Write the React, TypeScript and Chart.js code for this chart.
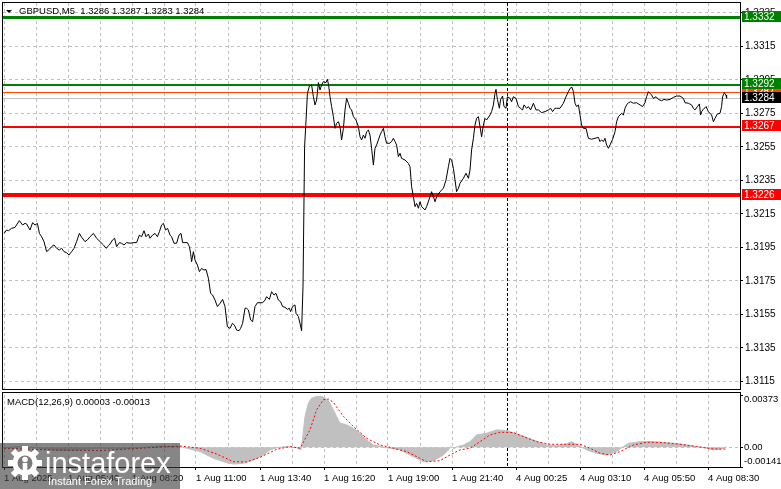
import React, { useEffect, useRef } from 'react';
import { Chart, registerables } from 'chart.js';
Chart.register(...registerables);

// ---------- data ----------
const priceBars = [
  0, 1.3, 2.2, 3.8, 5.5, 7.7, 9.3, 10.5, 11.3, 13, 14.3, 15.5, 16.7, 17.7, 18.8, 20, 21.3, 22.7, 23.8, 25,
  26.3, 27.7, 28.8, 30, 31.3, 32.5, 33.8, 35, 36.3, 37.7, 38.8, 40.5, 41.7, 43, 44.7, 46.3, 48, 49.7, 51, 52.7,
  54.3, 55.3, 56.3, 57.7, 58.8, 60, 61.3, 63, 65, 66.3, 67.7, 68.8, 70, 71, 72.2, 73, 74.3, 75.5, 76.7, 77.7,
  78.8, 79.7, 80.8, 81.8, 83, 83.8, 85, 86.3, 87.5, 88.5, 89.3, 90.5, 91.7, 92.7, 93.3, 93.8, 94.7, 95.5, 96.7, 97.7,
  98.8, 100, 101, 102.2, 103.3, 104.3, 105.5, 106.7, 108, 109.3, 110.5, 111.7, 113, 114.2, 115.2, 116.3, 117.5, 118.3, 119.3, 120.5,
  121.3, 122.2, 123.3, 124.3, 125.5, 126.7, 128, 129.3, 130.5, 131.3, 132.7, 133.8, 135, 136, 137.2, 138.3, 139.3, 140.5, 141.7, 142.7,
  143.3, 144.3, 145.5, 146, 147.2, 148, 148.8, 149.5, 150.3, 151.3, 151.7, 152.7, 153.8, 154.7, 155.5, 156.3, 157.2, 158, 158.8, 159.7,
  161, 161.7, 162.3, 163, 163.8, 164.7, 165.5, 166.3, 167.2, 168, 168.8, 169.7, 170.5, 171.3, 172.2, 173, 173.8, 174.7, 176, 177.2,
  178, 178.8, 179.7, 180.5, 181.3, 182.2, 183, 183.8, 184.7, 185.5, 186.3, 187.2, 188, 188.8, 189.7, 190.5, 191.3, 192.7, 193.8, 194.7,
  195.5, 196.3, 197.2, 198, 198.8, 200.5, 202.2, 203, 203.8, 204.7, 205.5, 206.3, 207.2, 208, 208.8, 210.5, 211.3, 213, 213.8, 214.7,
  215.5, 216.3, 218, 219.7, 221, 222.2, 223, 223.8, 224.7, 225.5, 226.3, 227.2, 228, 229.7, 231, 232.2, 233, 233.8, 234.7, 235.5,
  236.3, 237.2, 238, 238.8, 239.7, 240.5, 241.3, 243, 243.8, 244.7, 245.5, 246, 246.7, 247.7, 248.3, 249.3, 250, 251, 251.7, 253,
  253.8, 254.7, 256, 257.2, 258.3, 259.3, 260, 261.3, 262.2, 263.3, 264.7, 266, 267.2, 268.8, 270.5, 272.2, 273.3, 274.3, 275.5, 276.3,
  278, 279.7, 281, 282.2, 283, 284, 284.7, 285.5, 286.3, 287.2, 288, 288.8, 289.7, 291, 292.2, 293.8, 295.5, 297.2, 298, 298.8,
  299.7, 300.5, 301.3, 302.2, 303, 304.3, 305.5, 306.3, 307.2, 308.8, 309.7, 310.5, 311.3, 312.2, 313.3, 314.7, 316.3, 318, 319.3, 320.5,
  321.3, 322.2, 323, 323.8, 324.7, 326, 327.2, 328.8, 330, 331.3, 333, 334.7, 336.3, 338, 339.7, 340.5, 342.2, 343.8, 344.7, 345.5,
  346.7, 347.7, 348.3, 348.8, 349.7, 351, 352.2, 353.8, 354.7, 355.5, 356.7, 358, 358.8, 359.3, 360.2, 361, 361.3,
];
const priceCloses = [
  1.32033, 1.32053, 1.32049, 1.32063, 1.32069, 1.32109, 1.32083, 1.32093, 1.32089, 1.32053, 1.32097, 1.32083, 1.32093, 1.32033, 1.32013, 1.31984, 1.31924, 1.31938, 1.31954, 1.31964,
  1.31944, 1.31934, 1.31944, 1.31924, 1.31918, 1.31904, 1.31924, 1.31944, 1.31984, 1.32033, 1.3201, 1.31984, 1.31994, 1.32013, 1.32033, 1.32004, 1.31984, 1.31964, 1.31944, 1.31964,
  1.31994, 1.32004, 1.31954, 1.31978, 1.31974, 1.31964, 1.31978, 1.31974, 1.31978, 1.31978, 1.32023, 1.32013, 1.32049, 1.32013, 1.32029, 1.32004, 1.32023, 1.32033, 1.32013, 1.32043,
  1.32083, 1.32093, 1.32053, 1.32063, 1.32023, 1.32013, 1.31974, 1.31974, 1.32023, 1.32033, 1.31978, 1.31978, 1.31978, 1.31954, 1.31914, 1.31864, 1.31924, 1.31874, 1.31844, 1.31805,
  1.31824, 1.31814, 1.31818, 1.31765, 1.31675, 1.31665, 1.31635, 1.31596, 1.31615, 1.31639, 1.31596, 1.31476, 1.31466, 1.31496, 1.31486, 1.31456, 1.31452, 1.31466, 1.31496, 1.31586,
  1.31586, 1.31576, 1.31516, 1.31506, 1.31596, 1.31619, 1.31619, 1.31619, 1.31635, 1.31655, 1.31639, 1.31685, 1.31665, 1.31675, 1.31635, 1.31625, 1.31596, 1.31592, 1.3158, 1.31586,
  1.31566, 1.31596, 1.31606, 1.31556, 1.31536, 1.31496, 1.31452, 1.31715, 1.32551, 1.3277, 1.32869, 1.32913, 1.32919, 1.32849, 1.328, 1.32829, 1.32933, 1.32889, 1.32919, 1.32939,
  1.32933, 1.32953, 1.32919, 1.32849, 1.3279, 1.3273, 1.3266, 1.3269, 1.327, 1.3267, 1.32591, 1.3266, 1.3277, 1.32839, 1.3281, 1.3278, 1.3277, 1.3273, 1.3271, 1.3267,
  1.3261, 1.32591, 1.3262, 1.32601, 1.3264, 1.3265, 1.3262, 1.32541, 1.32441, 1.32541, 1.32561, 1.32591, 1.3262, 1.3264, 1.3266, 1.3261, 1.32571, 1.32571, 1.32581, 1.32601,
  1.32581, 1.32561, 1.32491, 1.32511, 1.32481, 1.32471, 1.32451, 1.32431, 1.32312, 1.32252, 1.32193, 1.32212, 1.32183, 1.32222, 1.32193, 1.32173, 1.32193, 1.32252, 1.32282, 1.32252,
  1.32222, 1.32252, 1.32282, 1.32302, 1.32352, 1.32431, 1.32481, 1.32471, 1.32421, 1.32352, 1.32282, 1.32302, 1.32332, 1.32362, 1.32392, 1.32362, 1.32411, 1.32531, 1.32601, 1.3268,
  1.3272, 1.3273, 1.3267, 1.3261, 1.3268, 1.3272, 1.3271, 1.3274, 1.3276, 1.328, 1.32869, 1.32893, 1.32833, 1.3278, 1.32833, 1.32853, 1.3279, 1.3278, 1.32849, 1.32839,
  1.32819, 1.32849, 1.32839, 1.3279, 1.3278, 1.3277, 1.328, 1.3278, 1.3279, 1.3277, 1.3281, 1.3277, 1.3277, 1.32754, 1.3276, 1.3277, 1.3278, 1.3276, 1.3278, 1.3278,
  1.3278, 1.3281, 1.32849, 1.32879, 1.32899, 1.32905, 1.32879, 1.3281, 1.3279, 1.328, 1.3274, 1.3268, 1.3266, 1.3266, 1.32601, 1.32595, 1.32601, 1.32606, 1.32581, 1.32591,
  1.32581, 1.32601, 1.32561, 1.32541, 1.32561, 1.32595, 1.3264, 1.327, 1.3273, 1.3275, 1.3274, 1.3278, 1.328, 1.32813, 1.32819, 1.3281, 1.32813, 1.328, 1.3279, 1.32813,
  1.32849, 1.32879, 1.32869, 1.32859, 1.32839, 1.32849, 1.32833, 1.32825, 1.32833, 1.32829, 1.32833, 1.32845, 1.32853, 1.32853, 1.32839, 1.32813, 1.3281, 1.328, 1.3278, 1.3277,
  1.3279, 1.32806, 1.3274, 1.3276, 1.32774, 1.3279, 1.3276, 1.3274, 1.327, 1.3272, 1.32746, 1.3275, 1.3279, 1.32849, 1.32873, 1.32859, 1.3284,
];

const macdBars = [
  0, 8, 18, 28, 38, 48, 58, 68, 78, 88, 91.3, 98, 104.7, 111.3, 114.7, 119.7, 124.7, 129.7, 133, 136.3,
  141.3, 146.3, 148.5, 149.2, 150.5, 152.2, 153.8, 156.3, 158.8, 160.5, 162.2, 164.7, 166.3, 168, 171.3, 174.7, 178, 181.3, 184.7, 188,
  191.3, 198, 204.7, 209.7, 214.7, 219.7, 222.2, 223.3, 225, 226.7, 229.7, 233, 236.3, 241.3, 246.3, 251.3, 258, 264.7, 271.3, 276.3,
  281.3, 283.8, 286.3, 291.3, 296.3, 301.3, 306.3, 309.7, 312.2, 318, 324.7, 331.3, 338, 346.3, 351.3, 354.7, 358, 361.3,
];
const macdValues = [
  -0.00003, 0.00005, -0.00007, -0.00025, -0.00019, -0.00007, -0.00012, -0.00003, 0.00009, 0.00005, -0.00007, -0.00031, -0.00079, -0.0011, -0.0012, -0.00115, -0.00091, -0.00055, -0.00019, -0.00003,
  0.00005, -0.00003, -0.00019, 0.00052, 0.0022, 0.00315, 0.00351, 0.00363, 0.00363, 0.00351, 0.00334, 0.00267, 0.0022, 0.00172, 0.0016, 0.00136, 0.001, 0.00052, 0.00016, 0.00005,
  -0.00003, -0.00019, -0.00067, -0.00103, -0.00096, -0.00055, -0.00019, 0.00005, -0.0001, 0.00005, 0.00016, 0.0004, 0.00088, 0.001, 0.00124, 0.00119, 0.00088, 0.00052, 0.00016, 0.00012,
  0.00024, 0.0004, 0.00021, -0.00019, -0.00043, -0.00055, -0.00031, 0.00005, 0.00028, 0.0004, 0.0004, 0.00033, 0.00024, 0.00005, -0.00007, -0.00019, -0.00015, 0.00003,
];
const signalBars = [
  0, 23, 48, 73, 88, 98, 106.3, 114.7, 121.3, 128, 136.3, 143, 148, 153, 156.3, 159.7, 162.2, 164.7, 169.7, 174.7,
  181.3, 188, 194.7, 201.3, 208, 211.3, 218, 223, 228, 233, 238, 243, 248, 254.7, 259.7, 266.3, 273, 281.3, 288, 293,
  298, 303, 308, 314.7, 321.3, 329.7, 338, 346.3, 354.7, 361.3,
];
const signalValues = [
  -0.00007, -0.00019, -0.00024, -0.00003, 0.00009, -0.00007, -0.00048, -0.00103, -0.00105, -0.00072, -0.00015, 0.00005, -0.00007, 0.00124, 0.00267, 0.00339, 0.00344, 0.0032, 0.0022, 0.00148,
  0.00064, 0.00016, -0.00007, -0.00031, -0.00079, -0.00103, -0.00096, -0.00055, -0.00019, -0.00007, 0.0004, 0.00088, 0.00107, 0.00105, 0.00076, 0.0004, 0.00021, 0.00021, 0.00021, -0.00007,
  -0.00043, -0.00055, -0.00031, 0.00016, 0.00036, 0.00033, 0.00021, 0.00005, -0.00012, -0.00013,
];

const priceTicks = [1.3115, 1.3135, 1.3155, 1.3175, 1.3195, 1.3215, 1.3235, 1.3255, 1.3275, 1.3295, 1.3315, 1.3335];
const timeLabels = [
  '1 Aug 2025', '1 Aug 05:40', '1 Aug 08:20', '1 Aug 11:00', '1 Aug 13:40', '1 Aug 16:20',
  '1 Aug 19:00', '1 Aug 21:40', '4 Aug 00:25', '4 Aug 03:10', '4 Aug 05:50', '4 Aug 08:30',
];
const levelValues = [1.32872, 1.3292, 1.33324, 1.3284, 1.3267, 1.3226];
const levelLabels = ['1.3287', '1.3292', '1.3332', '1.3284', '1.3267', '1.3226'];
const macdAxisLabels = ['0.00373', '0.00', '-0.00141'];
const macdAxisValues = [0.00373, 0, -0.00141];
const separatorBar = 251.5;
const chartTitle = 'GBPUSD,M5  1.3286 1.3287 1.3283 1.3284';
const macdTitle = 'MACD(12,26,9) 0.00003 -0.00013';

// ---------- styles / layout ----------
const FONT = '"Liberation Sans", Arial, sans-serif';
const GRID = '#c0c0c0';
const CLEAR = 'rgba(0,0,0,0)';
const LEVEL_COLORS = ['#ff4500', '#008000', '#008000', '#c0c0c0', '#ff0000', '#ff0000'];
const LEVEL_WIDTHS = [1, 2, 3, 1, 2, 4];
const LEVEL_BOX = ['#ff4500', '#008000', '#008000', '#000000', '#ff0000', '#ff0000'];
const X_MIN = -0.5;
const X_MAX = 368;
const GRID_STEP = 16;
const LABEL_STEP = 32;
const PRICE_MIN = 1.31104;
const PRICE_MAX = 1.334085;
const MACD_MIN = -0.00141;
const MACD_MAX = 0.00373;

const gridBarList = () => {
  const out: number[] = [];
  for (let b = 0; b <= 352; b += GRID_STEP) out.push(b);
  return out;
};

function alignedY(py: number, w: number) {
  return w % 2 === 1 ? Math.round(py - 0.5) + 0.5 : Math.round(py);
}

function dashedGrid(ctx: any, a: any, xs: number[], ys: number[]) {
  ctx.save();
  ctx.strokeStyle = GRID;
  ctx.lineWidth = 1;
  ctx.setLineDash([3, 3]);
  ctx.beginPath();
  xs.forEach((px) => {
    const x = Math.floor(px) + 0.5;
    ctx.moveTo(x, a.top);
    ctx.lineTo(x, a.bottom);
  });
  ys.forEach((py) => {
    const y = Math.floor(py) + 0.5;
    ctx.moveTo(a.left, y);
    ctx.lineTo(a.right, y);
  });
  ctx.stroke();
  ctx.restore();
}

function noPad(s: any) {
  s.paddingTop = 0;
  s.paddingBottom = 0;
  s.paddingLeft = 0;
  s.paddingRight = 0;
}

const mainDecor = {
  id: 'mainDecor',
  beforeDatasetsDraw(chart: any) {
    const { ctx, chartArea: a, scales } = chart;
    dashedGrid(
      ctx,
      a,
      scales.x.ticks.map((t: any) => scales.x.getPixelForValue(t.value)),
      scales.y.ticks.map((t: any) => scales.y.getPixelForValue(t.value)),
    );
    ctx.save();
    ctx.beginPath();
    ctx.rect(a.left, a.top, a.right - a.left, a.bottom - a.top);
    ctx.clip();
    const sx = Math.round(scales.x.getPixelForValue(separatorBar)) + 0.5;
    ctx.strokeStyle = '#000';
    ctx.lineWidth = 1;
    ctx.setLineDash([3, 2]);
    ctx.beginPath();
    ctx.moveTo(sx, a.top);
    ctx.lineTo(sx, a.bottom);
    ctx.stroke();
    ctx.setLineDash([]);
    levelValues.forEach((v, i) => {
      const w = LEVEL_WIDTHS[i];
      const py = alignedY(scales.y.getPixelForValue(v), w);
      ctx.strokeStyle = LEVEL_COLORS[i];
      ctx.lineWidth = w;
      ctx.beginPath();
      ctx.moveTo(a.left, py);
      ctx.lineTo(a.right, py);
      ctx.stroke();
    });
    ctx.restore();
  },
  afterDraw(chart: any) {
    const { ctx, chartArea: a, scales } = chart;
    ctx.save();
    ctx.strokeStyle = '#000';
    ctx.lineWidth = 1;
    ctx.strokeRect(a.left - 0.5, a.top - 0.5, a.right - a.left + 1, a.bottom - a.top + 1);
    ctx.font = `10px ${FONT}`;
    ctx.textBaseline = 'middle';
    ctx.textAlign = 'left';
    levelValues.forEach((v, i) => {
      const py = scales.y.getPixelForValue(v);
      const top = Math.round(py - 6.5);
      ctx.fillStyle = LEVEL_BOX[i];
      ctx.fillRect(a.right + 2, top, chart.width - a.right - 2, 11);
      ctx.fillStyle = '#fff';
      ctx.fillText(levelLabels[i], a.right + 4, top + 6);
    });
    ctx.fillStyle = '#000';
    ctx.beginPath();
    ctx.moveTo(6, 10);
    ctx.lineTo(12, 10);
    ctx.lineTo(9, 13);
    ctx.closePath();
    ctx.fill();
    ctx.font = `9.5px ${FONT}`;
    ctx.fillText(chartTitle, 19, 11);
    ctx.restore();
  },
};

function drawLogo(ctx: any, cx: number, cy: number) {
  ctx.save();
  ctx.translate(cx, cy);
  ctx.fillStyle = '#ffffff';
  for (let k = 0; k < 8; k++) {
    ctx.save();
    ctx.rotate((k * Math.PI) / 4);
    ctx.fillRect(-3, -17, 6, 7);
    ctx.restore();
  }
  ctx.beginPath();
  ctx.arc(0, 0, 12.5, 0, Math.PI * 2);
  ctx.fill();
  ctx.fillStyle = '#7a7a7a';
  ctx.beginPath();
  ctx.arc(0, 0, 7.5, 0, Math.PI * 2);
  ctx.fill();
  ctx.fillStyle = '#ffffff';
  ctx.beginPath();
  ctx.arc(0, -3.5, 2.8, 0, Math.PI * 2);
  ctx.fill();
  ctx.fillRect(-2.3, 0, 4.6, 14);
  ctx.restore();
}

const macdDecor = {
  id: 'macdDecor',
  beforeDatasetsDraw(chart: any) {
    const { ctx, chartArea: a, scales } = chart;
    dashedGrid(
      ctx,
      a,
      scales.x.ticks.map((t: any) => scales.x.getPixelForValue(t.value)),
      [scales.y.getPixelForValue(0)],
    );
    ctx.save();
    const sx = Math.round(scales.x.getPixelForValue(separatorBar)) + 0.5;
    ctx.strokeStyle = '#000';
    ctx.lineWidth = 1;
    ctx.setLineDash([3, 2]);
    ctx.beginPath();
    ctx.moveTo(sx, 1);
    ctx.lineTo(sx, a.bottom);
    ctx.stroke();
    ctx.restore();
  },
  afterDraw(chart: any) {
    const { ctx, chartArea: a, scales } = chart;
    ctx.save();
    ctx.strokeStyle = '#000';
    ctx.lineWidth = 1;
    ctx.strokeRect(a.left - 0.5, 0.5, a.right - a.left + 1, a.bottom);
    ctx.fillStyle = '#000';
    ctx.font = `9.5px ${FONT}`;
    ctx.textBaseline = 'middle';
    ctx.textAlign = 'left';
    const offs = [4, 0, -6];
    macdAxisValues.forEach((v, i) => {
      const py = scales.y.getPixelForValue(v);
      ctx.fillText(macdAxisLabels[i], a.right + 4, py + offs[i]);
    });
    ctx.fillText(macdTitle, 7, 10);
    ctx.fillStyle = 'rgba(60,60,60,0.62)';
    ctx.fillRect(0, 51, 180, chart.height - 51);
    drawLogo(ctx, 25, 71);
    ctx.fillStyle = '#ffffff';
    ctx.textBaseline = 'alphabetic';
    ctx.font = `29px ${FONT}`;
    ctx.fillText('instaforex', 45, 81);
    ctx.font = `11px ${FONT}`;
    ctx.fillText('Instant Forex Trading', 48, 93);
    ctx.restore();
  },
};

function mainConfig(): any {
  return {
    type: 'line',
    data: {
      datasets: [
        {
          data: priceBars.map((b, i) => ({ x: b, y: priceCloses[i] })),
          borderColor: '#000000',
          borderWidth: 1,
          pointRadius: 0,
          fill: false,
          tension: 0,
        },
      ],
    },
    options: {
      animation: false,
      responsive: false,
      maintainAspectRatio: false,
      devicePixelRatio: 1,
      events: [],
      layout: { padding: { left: 3, top: 3, right: 0, bottom: 3 } },
      plugins: { legend: { display: false }, tooltip: { enabled: false } },
      scales: {
        x: {
          type: 'linear',
          min: X_MIN,
          max: X_MAX,
          afterBuildTicks: (s: any) => {
            s.ticks = gridBarList().map((v) => ({ value: v }));
          },
          afterFit: (s: any) => {
            s.height = 0;
            noPad(s);
          },
          ticks: { display: false },
          grid: { color: CLEAR, drawTicks: false, lineWidth: 1 },
          border: { display: false },
        },
        y: {
          type: 'linear',
          position: 'right',
          min: PRICE_MIN,
          max: PRICE_MAX,
          afterBuildTicks: (s: any) => {
            s.ticks = priceTicks.map((v) => ({ value: v }));
          },
          afterFit: (s: any) => {
            s.width = 41;
            noPad(s);
          },
          ticks: {
            callback: (v: any) => Number(v).toFixed(4),
            color: '#000',
            font: { family: FONT, size: 10 },
            padding: 2,
            autoSkip: false,
          },
          grid: { color: CLEAR, tickColor: '#000', tickLength: 3, tickWidth: 1 },
          border: { display: true, color: '#000', width: 1 },
        },
      },
    },
    plugins: [mainDecor],
  };
}

function macdConfig(): any {
  return {
    type: 'line',
    data: {
      datasets: [
        {
          data: signalBars.map((b, i) => ({ x: b, y: signalValues[i] })),
          borderColor: '#ff0000',
          borderWidth: 1,
          borderDash: [2, 2],
          pointRadius: 0,
          fill: false,
          tension: 0,
          order: 0,
        },
        {
          data: macdBars.map((b, i) => ({ x: b, y: macdValues[i] })),
          borderColor: '#c0c0c0',
          backgroundColor: '#c0c0c0',
          borderWidth: 1,
          pointRadius: 0,
          fill: 'origin',
          tension: 0,
          order: 1,
        },
      ],
    },
    options: {
      animation: false,
      responsive: false,
      maintainAspectRatio: false,
      devicePixelRatio: 1,
      events: [],
      layout: { padding: { left: 3, top: 3, right: 0, bottom: 0 } },
      plugins: { legend: { display: false }, tooltip: { enabled: false } },
      scales: {
        x: {
          type: 'linear',
          min: X_MIN,
          max: X_MAX,
          afterBuildTicks: (s: any) => {
            s.ticks = gridBarList().map((v) => ({ value: v }));
          },
          afterFit: (s: any) => {
            s.height = 22;
            noPad(s);
          },
          ticks: {
            callback: (v: any) => (v % LABEL_STEP === 0 ? timeLabels[v / LABEL_STEP] || '' : ''),
            align: 'start',
            maxRotation: 0,
            minRotation: 0,
            autoSkip: false,
            color: '#000',
            font: { family: FONT, size: 9.5 },
            padding: 3,
          },
          grid: {
            color: CLEAR,
            tickLength: 3,
            tickColor: (c: any) => (c.tick && c.tick.value % LABEL_STEP === 0 ? '#000' : CLEAR),
          },
          border: { display: true, color: '#000', width: 1 },
        },
        y: {
          type: 'linear',
          position: 'right',
          min: MACD_MIN,
          max: MACD_MAX,
          afterBuildTicks: (s: any) => {
            s.ticks = macdAxisValues.map((v) => ({ value: v }));
          },
          afterFit: (s: any) => {
            s.width = 41;
            noPad(s);
          },
          ticks: { display: false },
          grid: { color: CLEAR, tickColor: '#000', tickLength: 3 },
          border: { display: true, color: '#000', width: 1 },
        },
      },
    },
    plugins: [macdDecor],
  };
}

export default function App() {
  const mainRef = useRef<HTMLCanvasElement>(null);
  const macdRef = useRef<HTMLCanvasElement>(null);
  useEffect(() => {
    document.body.style.margin = '0';
    const c1 = new Chart(mainRef.current as HTMLCanvasElement, mainConfig());
    const c2 = new Chart(macdRef.current as HTMLCanvasElement, macdConfig());
    return () => {
      c1.destroy();
      c2.destroy();
    };
  }, []);
  return (
    <div style={{ position: 'relative', width: 781, height: 489, background: '#fff', overflow: 'hidden' }}>
      <canvas ref={mainRef} width={781} height={392} style={{ position: 'absolute', left: 0, top: 0 }} />
      <canvas ref={macdRef} width={781} height={97} style={{ position: 'absolute', left: 0, top: 392 }} />
    </div>
  );
}
